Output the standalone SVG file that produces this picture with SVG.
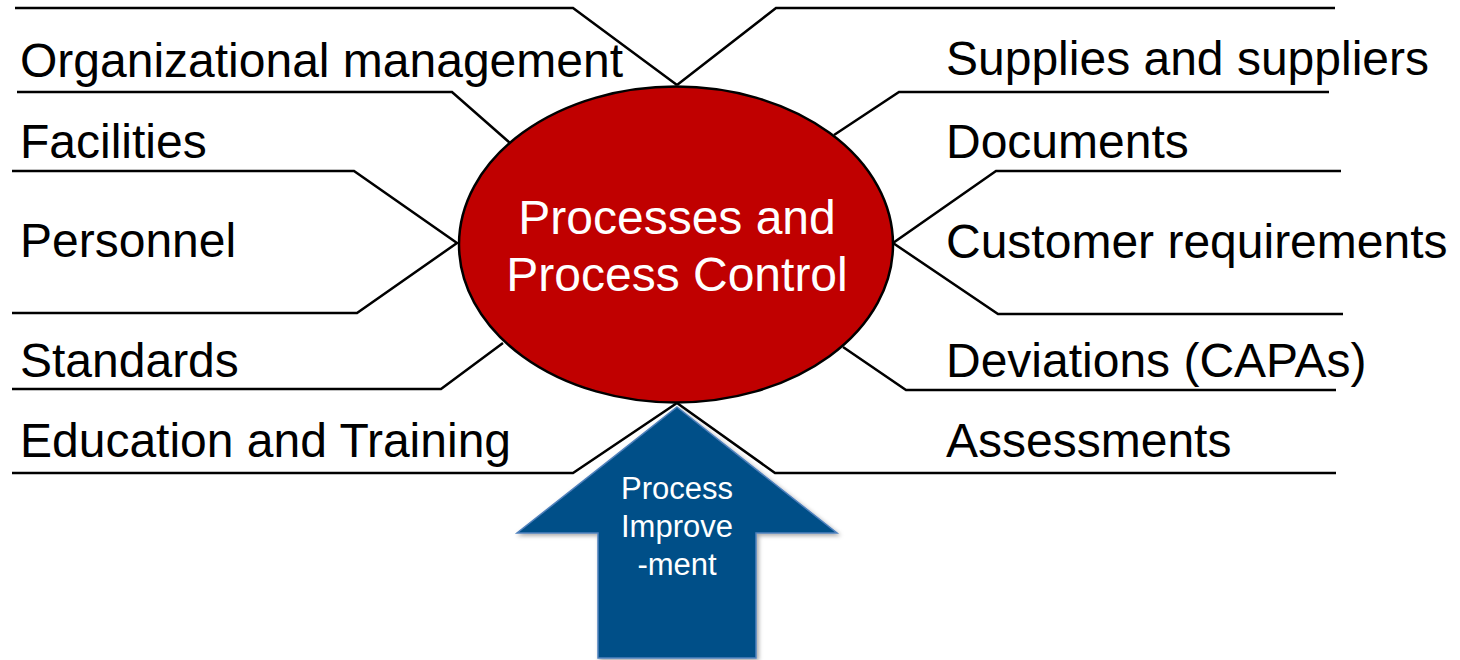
<svg xmlns="http://www.w3.org/2000/svg" width="1460" height="660" viewBox="0 0 1460 660">
<defs>
<style>
.ln{fill:none;stroke:#000;stroke-width:2.5;stroke-linejoin:miter}
.lbl{font-family:"Liberation Sans",Arial,sans-serif;font-size:48px;fill:#000}
.ctr{font-family:"Liberation Sans",Arial,sans-serif;font-size:48px;fill:#fff;text-anchor:middle}
.arr{font-family:"Liberation Sans",Arial,sans-serif;font-size:31px;fill:#fff;text-anchor:middle}
</style>
<filter id="sh" x="-10%" y="-10%" width="130%" height="130%">
<feDropShadow dx="2" dy="2" stdDeviation="2" flood-color="#000" flood-opacity="0.35"/>
</filter>
</defs>
<rect width="1460" height="660" fill="#fff"/>
<g id="connectors">
<polyline class="ln" points="15,8 573,8 677,85"/>
<polyline class="ln" points="677,85 776,8 1335,8"/>
<polyline class="ln" points="17,92 452,92 510,143"/>
<polyline class="ln" points="12,171 354,171 457,243 357,313 12,313"/>
<polyline class="ln" points="12,389 441,389 503,343"/>
<polyline class="ln" points="12,473 573,473 677,403 775,473 1336,473"/>
<polyline class="ln" points="834,135 899,92 1329,92"/>
<polyline class="ln" points="1341,171 996,171 893,243 998,314 1343,314"/>
<polyline class="ln" points="843,347 906,390 1336,390"/>
</g>
<g id="center">
<ellipse cx="676" cy="244.5" rx="217" ry="158" fill="#C00000" stroke="#000" stroke-width="2.5"/>
<text class="ctr" x="677" y="234">Processes and</text>
<text class="ctr" x="677" y="291">Process Control</text>
</g>
<g id="improvement">
<polygon points="677,407 837,533 756,533 756,658 598,658 598,533 517,533" fill="#034F88" stroke="#4F81BD" stroke-width="1.5" filter="url(#sh)"/>
<text class="arr" x="677" y="499">Process</text>
<text class="arr" x="677" y="537">Improve</text>
<text class="arr" x="677" y="575">-ment</text>
</g>
<g id="org"><text class="lbl" x="20" y="77">Organizational management</text></g>
<g id="facilities"><text class="lbl" x="20" y="158">Facilities</text></g>
<g id="personnel"><text class="lbl" x="20" y="257">Personnel</text></g>
<g id="standards"><text class="lbl" x="20" y="377">Standards</text></g>
<g id="education"><text class="lbl" x="20" y="457">Education and Training</text></g>
<g id="supplies"><text class="lbl" x="946" y="75">Supplies and suppliers</text></g>
<g id="documents"><text class="lbl" x="946" y="158">Documents</text></g>
<g id="customer"><text class="lbl" x="946" y="258">Customer requirements</text></g>
<g id="deviations"><text class="lbl" x="946" y="377">Deviations (CAPAs)</text></g>
<g id="assessments"><text class="lbl" x="946" y="457">Assessments</text></g>
</svg>
